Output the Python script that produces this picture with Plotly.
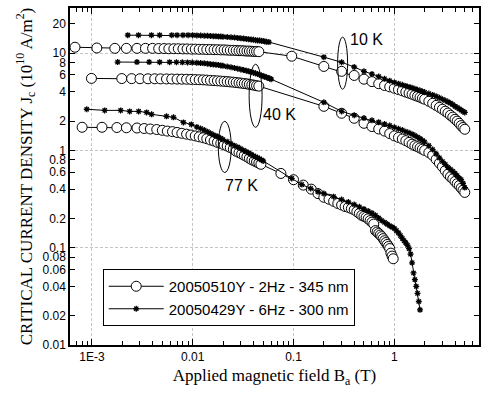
import math
import plotly.graph_objects as go

# ---------------- data ----------------
# 20050510Y - 2Hz - 345 nm  (open circles)
C10_B_low = [0.00068, 0.00112, 0.00169, 0.0022, 0.0028, 0.0034, 0.004, 0.0046, 0.0052, 0.0058, 0.0065, 0.0072,
             0.008, 0.0088, 0.0097, 0.0106, 0.0116, 0.0127, 0.0138, 0.015, 0.0163, 0.0176, 0.019, 0.0205, 0.022,
             0.0236, 0.0253, 0.027, 0.0288, 0.0306, 0.0325, 0.0345, 0.0365, 0.0386, 0.0408, 0.043, 0.0453]
C10_J_low = [11.5, 11.3, 11.2, 11.2, 11.2, 11.2, 11.2, 11.15, 11.15, 11.1, 11.1, 11.1,
             11.05, 11.05, 11.0, 11.0, 10.95, 10.95, 10.9, 10.9, 10.85, 10.85, 10.8, 10.8, 10.75,
             10.7, 10.7, 10.65, 10.6, 10.6, 10.55, 10.5, 10.5, 10.45, 10.4, 10.4, 10.35]
C10_B_high = [0.096, 0.2, 0.3, 0.4, 0.5, 0.6, 0.7, 0.8, 0.9, 1.0, 1.1, 1.2, 1.3, 1.4, 1.5, 1.6, 1.7, 1.8, 1.9, 2.0,
              2.2, 2.4, 2.6, 2.8, 3.0, 3.2, 3.4, 3.6, 3.8, 4.0, 4.2, 4.4, 4.6, 4.8, 5.0]
C10_J_high = [9.3, 7.3, 6.5, 5.9, 5.4, 5.1, 4.85, 4.65, 4.5, 4.36, 4.22, 4.1, 3.98, 3.88, 3.78, 3.68, 3.6, 3.52,
              3.44, 3.36, 3.2, 3.05, 2.9, 2.77, 2.65, 2.53, 2.42, 2.3, 2.2, 2.09, 2.0, 1.9, 1.8, 1.72, 1.65]

C40_B_low = [0.00099, 0.00198, 0.00248, 0.003, 0.0036, 0.0042, 0.0048, 0.0055, 0.0062, 0.007, 0.0078, 0.0087,
             0.0096, 0.0106, 0.0116, 0.0127, 0.0138, 0.015, 0.0163, 0.0176, 0.019, 0.0205, 0.022, 0.0236, 0.0253,
             0.027, 0.0288, 0.0306, 0.0325, 0.0345, 0.0365, 0.0386, 0.0408, 0.043, 0.0453]
C40_J_low = [5.5, 5.48, 5.47, 5.46, 5.45, 5.45, 5.44, 5.43, 5.42, 5.41, 5.4, 5.39, 5.37, 5.35, 5.33, 5.31, 5.28,
             5.25, 5.22, 5.19, 5.16, 5.13, 5.1, 5.06, 5.03, 4.99, 4.95, 4.91, 4.87, 4.83, 4.78, 4.73, 4.68, 4.63, 4.58]
C40_B_high = [0.2, 0.3, 0.4, 0.5, 0.6, 0.7, 0.8, 0.9, 1.0, 1.1, 1.2, 1.3, 1.4, 1.5, 1.6, 1.7, 1.8, 1.9, 2.0,
              2.2, 2.4, 2.6, 2.8, 3.0, 3.2, 3.4, 3.6, 3.8, 4.0, 4.2, 4.4, 4.6, 4.8, 5.0]
C40_J_high = [2.84, 2.41, 2.14, 1.90, 1.76, 1.66, 1.58, 1.49, 1.41, 1.36, 1.31, 1.26, 1.21, 1.16, 1.12, 1.09, 1.06,
              1.03, 1.0, 0.95, 0.89, 0.81, 0.74, 0.68, 0.62, 0.57, 0.535, 0.51, 0.48, 0.455, 0.435, 0.41, 0.39, 0.37]

C77_B_low = [0.0008, 0.00126, 0.00177, 0.0022, 0.0028, 0.0033, 0.0038, 0.0044, 0.005, 0.0056, 0.0063, 0.007,
             0.0078, 0.0087, 0.0096, 0.0106, 0.0116, 0.0127, 0.0138, 0.015, 0.0163, 0.0176, 0.019, 0.0205, 0.022,
             0.0236, 0.0253, 0.027, 0.0288, 0.0306, 0.0325, 0.0345, 0.0365, 0.0386, 0.0408, 0.043, 0.0453, 0.0475]
C77_J_low = [1.73, 1.73, 1.72, 1.71, 1.70, 1.68, 1.66, 1.64, 1.61, 1.58, 1.56, 1.53, 1.50, 1.47, 1.44, 1.41, 1.38,
             1.35, 1.32, 1.28, 1.25, 1.21, 1.18, 1.14, 1.11, 1.07, 1.03, 0.98, 0.95, 0.92, 0.89, 0.86, 0.83, 0.80,
             0.78, 0.76, 0.74, 0.72]
C77_B_high = [0.075, 0.1, 0.125, 0.15, 0.175, 0.2, 0.225, 0.25, 0.275, 0.3, 0.325, 0.35, 0.375, 0.4, 0.425, 0.45,
              0.475, 0.5, 0.525, 0.55, 0.575, 0.6, 0.625, 0.65, 0.675, 0.7, 0.725, 0.75, 0.775, 0.8, 0.825, 0.85,
              0.875, 0.9, 0.925, 0.95, 0.975]
C77_J_high = [0.58, 0.50, 0.44, 0.40, 0.36, 0.33, 0.315, 0.30, 0.285, 0.275, 0.265, 0.26, 0.252, 0.245, 0.235,
              0.225, 0.215, 0.21, 0.205, 0.198, 0.19, 0.183, 0.175, 0.15, 0.145, 0.14, 0.135, 0.13, 0.124, 0.118,
              0.113, 0.108, 0.103, 0.098, 0.088, 0.082, 0.077]

# 20050429Y - 6Hz - 300 nm  (stars)
S10_B_low = [0.00227, 0.0029, 0.0039, 0.0047, 0.0062, 0.007, 0.008, 0.009, 0.010, 0.011, 0.012, 0.013, 0.014,
             0.015, 0.016, 0.017, 0.018, 0.019, 0.020, 0.022, 0.024, 0.026, 0.028, 0.030, 0.032, 0.034, 0.036,
             0.038, 0.040, 0.042, 0.044, 0.046, 0.048, 0.050, 0.052, 0.054, 0.057]
S10_J_low = [15.3, 15.3, 15.3, 15.3, 15.3, 15.3, 15.3, 15.3, 15.3, 15.2, 15.15, 15.1, 15.05, 15.0, 14.95, 14.9,
             14.85, 14.8, 14.75, 14.65, 14.55, 14.45, 14.35, 14.2, 14.1, 14.0, 13.9, 13.8, 13.7, 13.6, 13.5, 13.45,
             13.4, 13.3, 13.2, 13.1, 13.0]
S10_B_high = [0.2, 0.3, 0.4, 0.5, 0.6, 0.7, 0.8, 0.9, 1.0, 1.1, 1.2, 1.3, 1.4, 1.5, 1.6, 1.7, 1.8, 1.9, 2.0,
              2.2, 2.4, 2.6, 2.8, 3.0, 3.2, 3.4, 3.6, 3.8, 4.0, 4.2, 4.4, 4.6, 4.8, 5.0]
S10_J_high = [9.1, 8.06, 7.2, 6.5, 6.1, 5.75, 5.45, 5.2, 5.0, 4.85, 4.72, 4.6, 4.5, 4.4, 4.3, 4.2, 4.12, 4.04, 3.96,
              3.84, 3.72, 3.6, 3.48, 3.36, 3.26, 3.16, 3.06, 2.96, 2.84, 2.76, 2.68, 2.6, 2.52, 2.46]

S40_B_low = [0.0018, 0.0028, 0.0037, 0.0047, 0.0059, 0.0069, 0.0079, 0.0089, 0.0099, 0.011, 0.012, 0.013, 0.014,
             0.015, 0.016, 0.017, 0.018, 0.019, 0.020, 0.022, 0.024, 0.026, 0.028, 0.030, 0.032, 0.034, 0.036,
             0.038, 0.040, 0.042, 0.044, 0.046, 0.048, 0.050, 0.052, 0.054, 0.056, 0.058, 0.060]
S40_J_low = [8.1, 8.1, 8.1, 8.08, 8.08, 8.06, 8.04, 8.02, 8.0, 7.95, 7.9, 7.85, 7.8, 7.7, 7.65, 7.6, 7.55, 7.48,
             7.4, 7.28, 7.16, 7.04, 6.92, 6.8, 6.7, 6.6, 6.5, 6.4, 6.3, 6.2, 6.1, 6.0, 5.9, 5.8, 5.72, 5.64, 5.56,
             5.48, 5.4]
S40_B_high = [0.2, 0.3, 0.4, 0.5, 0.6, 0.7, 0.8, 0.9, 1.0, 1.1, 1.2, 1.3, 1.4, 1.5, 1.6, 1.7, 1.8, 1.9, 2.0,
              2.2, 2.4, 2.6, 2.8, 3.0, 3.2, 3.4, 3.6, 3.8, 4.0, 4.2, 4.4, 4.6, 4.8, 5.0]
S40_J_high = [3.12, 2.52, 2.3, 2.15, 2.04, 1.95, 1.87, 1.8, 1.73, 1.67, 1.62, 1.56, 1.52, 1.47, 1.42, 1.37, 1.32,
              1.27, 1.22, 1.12, 1.02, 0.92, 0.84, 0.77, 0.72, 0.67, 0.64, 0.61, 0.58, 0.55, 0.52, 0.50, 0.46, 0.415]

S77_B_low = [0.00089, 0.00134, 0.00193, 0.00237, 0.00291, 0.00349, 0.00391, 0.0055, 0.00645, 0.0081, 0.0097,
             0.011, 0.012, 0.013, 0.014, 0.015, 0.016, 0.017, 0.018, 0.019, 0.020, 0.022, 0.024, 0.026, 0.028,
             0.030, 0.032, 0.034, 0.036, 0.038, 0.040, 0.042, 0.044, 0.046, 0.048, 0.050]
S77_J_low = [2.65, 2.58, 2.58, 2.52, 2.52, 2.46, 2.35, 2.24, 2.19, 1.94, 1.85,
             1.74, 1.68, 1.62, 1.56, 1.50, 1.45, 1.41, 1.37, 1.33, 1.29, 1.23, 1.17, 1.12, 1.08,
             1.04, 1.0, 0.97, 0.94, 0.91, 0.88, 0.86, 0.84, 0.82, 0.80, 0.78]
S77_B_high = [0.096, 0.121, 0.148, 0.175, 0.2, 0.25, 0.3, 0.35, 0.4, 0.45, 0.5, 0.55, 0.6, 0.65, 0.7, 0.75, 0.8,
              0.85, 0.9, 0.95, 1.0, 1.05, 1.1, 1.15, 1.2, 1.25, 1.3, 1.35, 1.4, 1.45, 1.5, 1.55, 1.6, 1.65, 1.7,
              1.75, 1.8]
S77_J_high = [0.515, 0.446, 0.406, 0.375, 0.36, 0.335, 0.313, 0.295, 0.278, 0.263, 0.25, 0.238, 0.227, 0.215,
              0.202, 0.19, 0.182, 0.175, 0.168, 0.163, 0.158, 0.15, 0.142, 0.133, 0.125, 0.118, 0.112, 0.106,
              0.098, 0.086, 0.07, 0.055, 0.047, 0.040, 0.034, 0.028, 0.023]

LEGEND_CIRCLE = "20050510Y - 2Hz - 345 nm"
LEGEND_STAR = "20050429Y - 6Hz - 300 nm"

Y_TICKS = [0.01, 0.02, 0.04, 0.06, 0.08, 0.1, 0.2, 0.4, 0.6, 0.8, 1, 2, 4, 6, 8, 10, 20]
Y_TICKTEXT = ["0.01", "0.02", "0.04", "0.06", "0.08", "0.1", "0.2", "0.4", "0.6", "0.8",
              "1", "2", "4", "6", "8", "10", "20"]
X_TICKS = [0.001, 0.01, 0.1, 1]
X_TICKTEXT = ["1E-3", "0.01", "0.1", "1"]
X_MINOR = [m * d for d in (0.0001, 0.001, 0.01, 0.1, 1) for m in range(2, 10)]

# temperature labels: (text, B, J) and ellipse boxes (B0, B1, J0, J1)
TEMP_LABELS = [("10 K", 0.53, 13.9), ("40 K", 0.0718, 2.35), ("77 K", 0.0303, 0.436)]
ELLIPSES = [(0.274, 0.344, 4.26, 14.6), (0.0363, 0.0488, 1.73, 7.69), (0.01795, 0.0241, 0.593, 1.99)]

# ---------------- figure ----------------
fig = go.Figure()

def circ_trace(B, J, show):
    return go.Scatter(x=B, y=J, mode="lines+markers", name=LEGEND_CIRCLE, showlegend=show,
                      line=dict(color="black", width=1),
                      marker=dict(symbol="circle", size=10, color="white",
                                  line=dict(color="black", width=1)))

def star_trace(B, J, show):
    return go.Scatter(x=B, y=J, mode="lines+markers", name=LEGEND_STAR, showlegend=show,
                      line=dict(color="black", width=1),
                      marker=dict(symbol="asterisk-open", size=5, color="black",
                                  line=dict(color="black", width=1.3)))

fig.add_trace(circ_trace(C10_B_low + C10_B_high, C10_J_low + C10_J_high, True))
fig.add_trace(circ_trace(C40_B_low + C40_B_high, C40_J_low + C40_J_high, False))
fig.add_trace(circ_trace(C77_B_low + C77_B_high, C77_J_low + C77_J_high, False))
fig.add_trace(star_trace(S10_B_low + S10_B_high, S10_J_low + S10_J_high, True))
fig.add_trace(star_trace(S40_B_low + S40_B_high, S40_J_low + S40_J_high, False))
fig.add_trace(star_trace(S77_B_low + S77_B_high, S77_J_low + S77_J_high, False))

for text, bx, jy in TEMP_LABELS:
    fig.add_annotation(x=math.log10(bx), y=math.log10(jy), text=text, showarrow=False,
                       font=dict(family="Liberation Sans, Arial", size=16, color="black"))
for b0, b1, j0, j1 in ELLIPSES:
    fig.add_shape(type="circle", xref="x", yref="y", x0=b0, x1=b1, y0=j0, y1=j1,
                  line=dict(color="black", width=1))

tickfont = dict(family="Liberation Sans, Arial", size=12, color="black")
titlefont = dict(family="Liberation Serif, Times New Roman", size=17, color="black")

fig.update_xaxes(type="log", range=[-3.217, 0.840],
                 tickmode="array", tickvals=X_TICKS, ticktext=X_TICKTEXT,
                 ticks="inside", ticklen=6, tickwidth=1, tickcolor="black",
                 showline=True, linecolor="black", linewidth=1.5, mirror="ticks",
                 showgrid=True, gridcolor="#c4c4c4", gridwidth=1, griddash="3px,2px",
                 zeroline=False, tickfont=tickfont,
                 minor=dict(tickmode="array", tickvals=X_MINOR, ticks="inside", ticklen=4,
                            tickwidth=1, tickcolor="black", showgrid=False),
                 title=dict(text="Applied magnetic field B<sub>a</sub> (T)", font=titlefont, standoff=6))

fig.update_yaxes(type="log", range=[-2, 1.464],
                 tickmode="array", tickvals=Y_TICKS, ticktext=Y_TICKTEXT,
                 ticks="inside", ticklen=5, tickwidth=1, tickcolor="black",
                 showline=True, linecolor="black", linewidth=1.5, mirror="ticks",
                 showgrid=False, zeroline=False, tickfont=tickfont,
                 minor=dict(tickmode="array", tickvals=[0.1, 1, 10], ticks="", showgrid=True,
                            gridcolor="#c4c4c4", gridwidth=1, griddash="3px,2px"),
                 title=dict(text="CRITICAL CURRENT DENSITY J<sub>c</sub> (10<sup>10</sup> A/m<sup>2</sup>)",
                            font=titlefont, standoff=6))

fig.update_layout(
    width=483, height=394,
    margin=dict(l=70, r=2, t=8, b=49),
    paper_bgcolor="white", plot_bgcolor="white",
    legend=dict(x=0.08, y=0.2255, xanchor="left", yanchor="top",
                bordercolor="black", borderwidth=1, bgcolor="white",
                font=dict(family="Liberation Sans, Arial", size=15, color="black"),
                tracegroupgap=0, itemwidth=55),
)

fig.write_html("out.html")
